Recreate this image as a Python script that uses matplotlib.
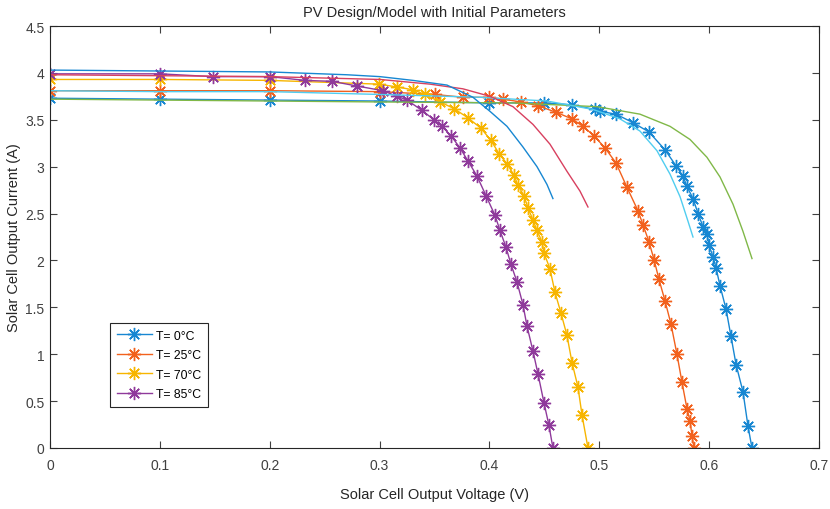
import matplotlib
matplotlib.use("Agg")
import matplotlib.pyplot as plt

plt.rcParams['font.family'] = ['Liberation Sans', 'DejaVu Sans']

# ---- data ----
# measured series (with markers)
v_t0 = [0.0, 0.1001, 0.2003, 0.3004, 0.3997, 0.4496, 0.4751, 0.4960, 0.5006, 0.5151, 0.5306, 0.5452,
        0.5598, 0.5698, 0.5762, 0.5798, 0.5853, 0.5899, 0.5944, 0.5981, 0.5999, 0.6035, 0.6063,
        0.6099, 0.6154, 0.6199, 0.6245, 0.6308, 0.6354, 0.6390]
i_t0 = [3.73, 3.72, 3.71, 3.70, 3.68, 3.68, 3.66, 3.61, 3.59, 3.56, 3.47, 3.37, 3.18, 3.01, 2.90,
        2.79, 2.66, 2.50, 2.36, 2.28, 2.16, 2.04, 1.92, 1.73, 1.48, 1.19, 0.89, 0.60, 0.23, 0.0]

v_t25 = [0.0, 0.1001, 0.2003, 0.3004, 0.3505, 0.3760, 0.3997, 0.4124, 0.4287, 0.4442, 0.4606, 0.4751,
         0.4851, 0.4951, 0.5052, 0.5152, 0.5252, 0.5352, 0.5398, 0.5452, 0.5498, 0.5543, 0.5598,
         0.5653, 0.5707, 0.5753, 0.5798, 0.5826, 0.5844, 0.5862]
i_t25 = [3.81, 3.81, 3.81, 3.80, 3.77, 3.74, 3.74, 3.72, 3.69, 3.65, 3.58, 3.51, 3.43, 3.33, 3.20,
         3.04, 2.78, 2.53, 2.38, 2.20, 2.01, 1.80, 1.57, 1.32, 1.00, 0.70, 0.42, 0.29, 0.13, 0.0]

v_t70 = [0.0, 0.1001, 0.2003, 0.2994, 0.3158, 0.3304, 0.3413, 0.3550, 0.3677, 0.3805, 0.3923, 0.4014,
         0.4087, 0.4160, 0.4224, 0.4260, 0.4315, 0.4351, 0.4397, 0.4433, 0.4478, 0.4497, 0.4551,
         0.4597, 0.4651, 0.4706, 0.4752, 0.4806, 0.4843, 0.4897]
i_t70 = [3.93, 3.93, 3.92, 3.88, 3.85, 3.82, 3.77, 3.69, 3.62, 3.52, 3.41, 3.28, 3.14, 3.03, 2.91,
         2.80, 2.69, 2.56, 2.43, 2.32, 2.20, 2.08, 1.91, 1.66, 1.44, 1.20, 0.91, 0.65, 0.35, 0.0]

v_t85 = [0.0, 0.1001, 0.1484, 0.2003, 0.2321, 0.2567, 0.2794, 0.3031, 0.3159, 0.3250, 0.3386, 0.3495,
         0.3568, 0.3650, 0.3732, 0.3805, 0.3887, 0.3969, 0.4051, 0.4096, 0.4151, 0.4196, 0.4251,
         0.4305, 0.4342, 0.4397, 0.4442, 0.4497, 0.4542, 0.4578]
i_t85 = [3.99, 3.99, 3.96, 3.96, 3.92, 3.91, 3.86, 3.81, 3.75, 3.71, 3.60, 3.50, 3.43, 3.33, 3.20,
         3.06, 2.90, 2.69, 2.48, 2.32, 2.14, 1.96, 1.77, 1.53, 1.30, 1.03, 0.79, 0.48, 0.24, 0.0]

# model series (plain lines)
v_m0 = [0.0, 0.1001, 0.2003, 0.3004, 0.4214, 0.4979, 0.5370, 0.5644, 0.5826, 0.5980, 0.6099, 0.6217,
        0.6308, 0.6390]
i_m0 = [3.72, 3.71, 3.70, 3.69, 3.68, 3.64, 3.56, 3.43, 3.29, 3.10, 2.89, 2.60, 2.31, 2.02]
v_m25 = [0.0, 0.1001, 0.2003, 0.3004, 0.3914, 0.4524, 0.4943, 0.5188, 0.5370, 0.5525, 0.5644, 0.5735,
         0.5807, 0.5853]
i_m25 = [3.81, 3.80, 3.80, 3.77, 3.74, 3.70, 3.61, 3.51, 3.38, 3.17, 2.92, 2.68, 2.42, 2.25]
v_m70 = [0.0, 0.1001, 0.2003, 0.3004, 0.3459, 0.3759, 0.4005, 0.4214, 0.4397, 0.4551, 0.4706, 0.4824,
         0.4897]
i_m70 = [3.98, 3.97, 3.96, 3.93, 3.88, 3.83, 3.75, 3.64, 3.45, 3.24, 2.95, 2.74, 2.57]
v_m85 = [0.0, 0.1001, 0.2003, 0.2703, 0.3004, 0.3304, 0.3614, 0.3850, 0.4005, 0.4160, 0.4305, 0.4433,
         0.4524, 0.4578]
i_m85 = [4.03, 4.02, 4.01, 3.98, 3.96, 3.92, 3.87, 3.74, 3.59, 3.43, 3.21, 3.00, 2.81, 2.66]

labels = ['T= 0\u00b0C', 'T= 25\u00b0C', 'T= 70\u00b0C', 'T= 85\u00b0C']
xticks = [0, 0.1, 0.2, 0.3, 0.4, 0.5, 0.6, 0.7]
xticklabels = ['0', '0.1', '0.2', '0.3', '0.4', '0.5', '0.6', '0.7']
yticks = [0, 0.5, 1, 1.5, 2, 2.5, 3, 3.5, 4, 4.5]
yticklabels = ['0', '0.5', '1', '1.5', '2', '2.5', '3', '3.5', '4', '4.5']

c_blue = '#1787d2'
c_orange = '#f2611d'
c_yellow = '#f7b500'
c_purple = '#8f3a9b'
c_green = '#80b848'
c_cyan = '#50cdf0'
c_red = '#d8405f'

fig = plt.figure(figsize=(8.3, 5.1), dpi=100)
ax = fig.add_axes([50/830, 1-449/510, 769/830, 422/510])

mk = (8, 2, 0)
ms = 9.5
for v, i, c, lab in [(v_t0, i_t0, c_blue, labels[0]), (v_t25, i_t25, c_orange, labels[1]),
                     (v_t70, i_t70, c_yellow, labels[2]), (v_t85, i_t85, c_purple, labels[3])]:
    ax.plot(v, i, color=c, lw=1.0, marker=mk, ms=ms, mew=1.0, label=lab)

for v, i, c in [(v_m0, i_m0, c_green), (v_m25, i_m25, c_cyan),
                (v_m70, i_m70, c_red), (v_m85, i_m85, c_blue)]:
    ax.plot(v, i, color=c, lw=1.0)

ax.set_xlim(0, 0.7)
ax.set_ylim(0, 4.5)
ax.set_xticks(xticks)
ax.set_xticklabels(xticklabels)
ax.set_yticks(yticks)
ax.set_yticklabels(yticklabels)
ax.tick_params(direction='in', top=True, right=True, length=5, width=0.8,
               labelsize=10, colors='#404040')
ax.tick_params(axis='x', pad=7)
ax.tick_params(axis='y', pad=4)
for s in ax.spines.values():
    s.set_color('#262626')
    s.set_linewidth(0.8)

ax.set_title('PV Design/Model with Initial Parameters', fontsize=10.5, color='#262626', pad=7)
ax.set_xlabel('Solar Cell Output Voltage (V)', fontsize=10.5, color='#262626', labelpad=11)
ax.set_ylabel('Solar Cell Output Current (A)', fontsize=10.5, color='#262626', labelpad=3)

leg = ax.legend(loc='lower left', bbox_to_anchor=(60/769, 41/422), borderaxespad=0,
                fancybox=False, edgecolor='#262626', fontsize=8.8, handlelength=2.9,
                labelspacing=0.62, handletextpad=0.3, borderpad=0.55, framealpha=1)
leg.get_frame().set_linewidth(0.8)

fig.savefig('out.png', dpi=100)
